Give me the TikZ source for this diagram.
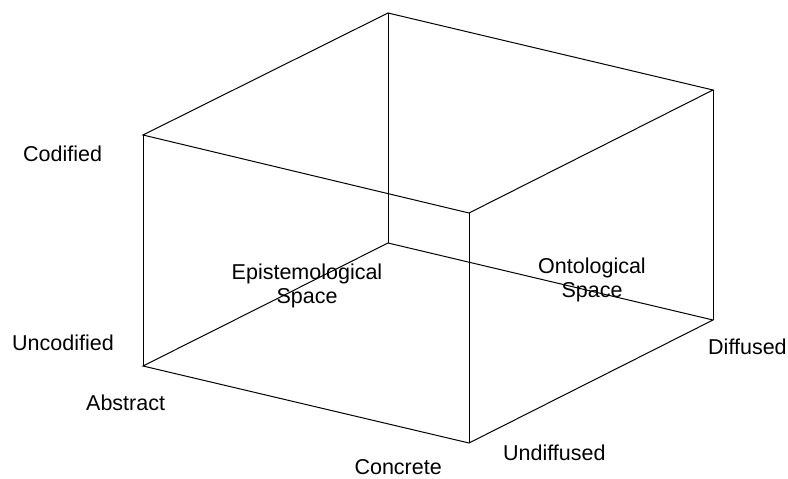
\documentclass[tikz,border=0pt]{standalone}
\usepackage{fontspec}
\setmainfont{Liberation Sans}
\usetikzlibrary{positioning}

\begin{document}
\begin{tikzpicture}[
  x=1pt,y=-1pt,
  every node/.style={font=\fontsize{21.5}{24}\selectfont},
  edge/.style={line width=1pt,line join=miter},
  tag/.style={inner sep=0pt},
  space/.style={align=center,inner sep=0pt}
]
  \useasboundingbox (0,0) rectangle (788,479);
  % corners of the box
  \coordinate (flt) at (143,135);
  \coordinate (flb) at (143,366);
  \coordinate (frt) at (469,213);
  \coordinate (frb) at (469,443);
  \coordinate (blt) at (388,13);
  \coordinate (blb) at (388,243);
  \coordinate (brt) at (713,90);
  \coordinate (brb) at (713,320);
  \draw[edge] (flt) -- (blt) -- (brt) -- (frt) -- cycle;
  \draw[edge] (flb) -- (blb) -- (brb) -- (frb) -- cycle;
  \draw[edge] (flt) -- (flb);
  \draw[edge] (frt) -- (frb);
  \draw[edge] (blt) -- (blb);
  \draw[edge] (brt) -- (brb);
  % axis labels
  \node[tag,anchor=base west] (cod) at (23,161) {Codified};
  \node[tag,anchor=base west] (uncod) at (12,350) {Uncodified};
  \node[tag,anchor=base west] (abs) at (86,410) {Abstract};
  \node[tag,anchor=base east] (conc) at (442,474) {Concrete};
  \node[tag,anchor=base west] (undif) at (503,460) {Undiffused};
  \node[tag,anchor=base west] (dif) at (708,354) {Diffused};
  \node[space] (epi) at (307,286) {Epistemological\\Space};
  \node[space] (onto) at (592,280) {Ontological\\Space};
\end{tikzpicture}
\end{document}
